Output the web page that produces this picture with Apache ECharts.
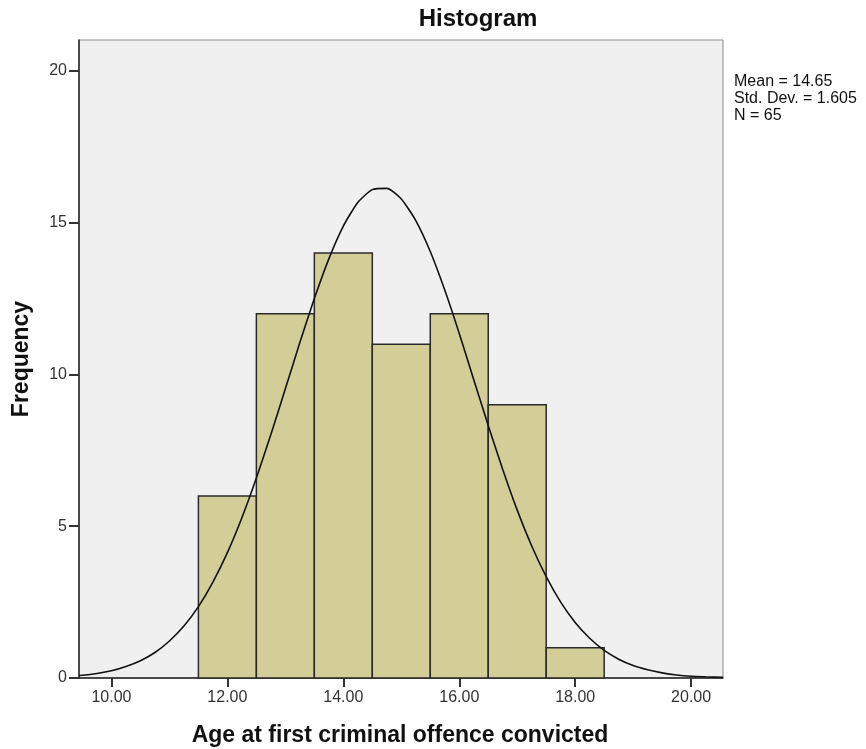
<!DOCTYPE html>
<html>
<head>
<meta charset="utf-8">
<script src="https://cdn.jsdelivr.net/npm/echarts@6/dist/echarts.min.js"></script>
<style>
html,body{margin:0;padding:0;background:#fff;}
#c{width:866px;height:749px;}
</style>
</head>
<body>
<div id="c"></div>
<script>
// Histogram bins: [start, end, frequency]
var binStarts = [11.5, 12.5, 13.5, 14.5, 15.5, 16.5, 17.5];
var binEnds   = [12.5, 13.5, 14.5, 15.5, 16.5, 17.5, 18.5];
var frequencies = [6, 12, 14, 11, 12, 9, 1];

// Normal curve points
var curveX = [9.44, 9.5, 9.75, 10, 10.25, 10.5, 10.75, 11, 11.25, 11.5, 11.75, 12, 12.25, 12.5, 12.75, 13, 13.25, 13.5, 13.75, 14, 14.25, 14.5, 14.75, 15, 15.25, 15.5, 15.75, 16, 16.25, 16.5, 16.75, 17, 17.25, 17.5, 17.75, 18, 18.25, 18.5, 18.75, 19, 19.25, 19.5, 19.75, 20, 20.25, 20.55];
var curveY = [0.08, 0.09, 0.15, 0.24, 0.38, 0.57, 0.84, 1.22, 1.71, 2.35, 3.16, 4.13, 5.28, 6.59, 8.02, 9.53, 11.05, 12.5, 13.81, 14.89, 15.67, 16.09, 16.13, 15.78, 15.07, 14.05, 12.78, 11.35, 9.83, 8.32, 6.87, 5.53, 4.35, 3.34, 2.50, 1.83, 1.31, 0.91, 0.62, 0.41, 0.27, 0.17, 0.10, 0.06, 0.04, 0.02];

var xTicks = [10, 12, 14, 16, 18, 20];
var yTicks = [0, 5, 10, 15, 20];
var statsLines = ['Mean = 14.65', 'Std. Dev. = 1.605', 'N = 65'];

var barData = binStarts.map(function (s, i) { return [s, binEnds[i], frequencies[i]]; });
var lineData = curveX.map(function (x, i) { return [x, curveY[i]]; });

var FONT = '"Liberation Sans", Arial, sans-serif';
var chart = echarts.init(document.getElementById('c'));
chart.setOption({
  animation: false,
  backgroundColor: '#ffffff',
  grid: {
    left: 79, top: 40, width: 644, height: 638,
    show: true, backgroundColor: '#f0f0f0', borderColor: '#8a8a8a', borderWidth: 1,
    containLabel: false
  },
  xAxis: {
    type: 'value', min: 9.44, max: 20.55,
    axisLine: { show: true, onZero: false, lineStyle: { color: '#222', width: 1.5 } },
    axisTick: { show: true, customValues: xTicks, length: 9, lineStyle: { color: '#333', width: 2 } },
    axisLabel: { customValues: xTicks, color: '#333', fontFamily: FONT, fontSize: 16, margin: 12,
      formatter: function (v) { return v.toFixed(2); } },
    splitLine: { show: false }
  },
  yAxis: {
    type: 'value', min: 0, max: 21.02,
    axisLine: { show: true, lineStyle: { color: '#222', width: 1.5 } },
    axisTick: { show: true, customValues: yTicks, length: 10, lineStyle: { color: '#333', width: 2 } },
    axisLabel: { customValues: yTicks, color: '#333', fontFamily: FONT, fontSize: 16, margin: 12 },
    splitLine: { show: false }
  },
  graphic: [
    { type: 'text', x: 478, y: 19, style: { text: 'Histogram', font: 'bold 24px ' + FONT, fill: '#111', align: 'center', verticalAlign: 'middle' } },
    { type: 'text', left: 734, top: 73, style: { text: statsLines.join('\n'), font: '16px ' + FONT, lineHeight: 17, fill: '#111' } },
    { type: 'text', x: 400, y: 736, style: { text: 'Age at first criminal offence convicted', font: 'bold 23px ' + FONT, fill: '#111', align: 'center', verticalAlign: 'middle' } },
    { type: 'text', x: 22, y: 359, rotation: Math.PI / 2, style: { text: 'Frequency', font: 'bold 23px ' + FONT, fill: '#111', align: 'center', verticalAlign: 'middle' } }
  ],
  series: [
    {
      type: 'custom',
      data: barData,
      encode: { x: [0, 1], y: 2 },
      renderItem: function (params, api) {
        var p0 = api.coord([api.value(0), api.value(2)]);
        var p1 = api.coord([api.value(1), 0]);
        return {
          type: 'rect',
          shape: { x: p0[0], y: p0[1], width: p1[0] - p0[0], height: p1[1] - p0[1] },
          style: { fill: '#d3ce97', stroke: '#2a2a2a', lineWidth: 1.5 }
        };
      },
      z: 2
    },
    {
      type: 'line',
      data: lineData,
      smooth: 0.2,
      showSymbol: false,
      lineStyle: { color: '#111', width: 1.6 },
      z: 3
    }
  ]
});
</script>
</body>
</html>
